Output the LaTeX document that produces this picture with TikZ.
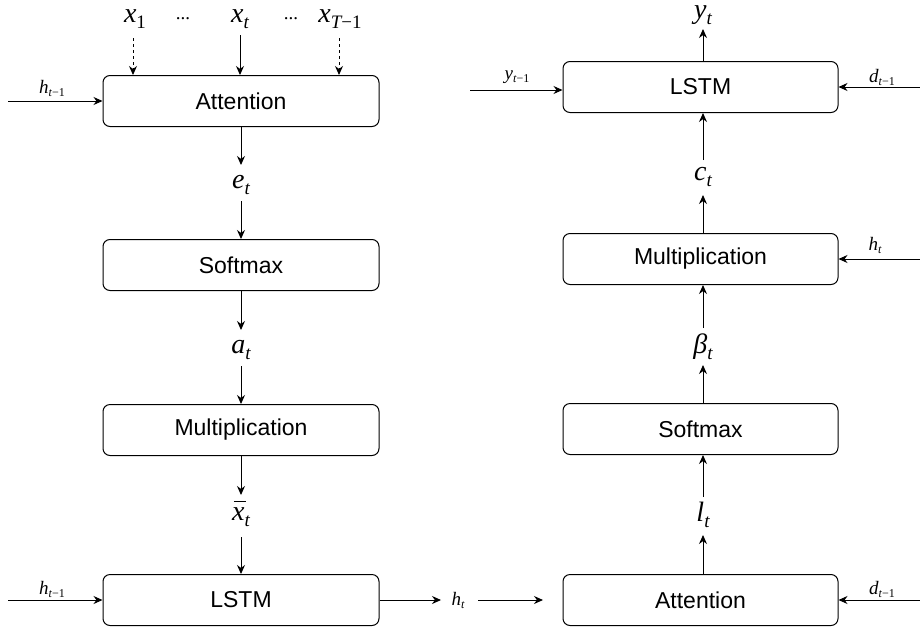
\documentclass[tikz,border=0pt]{standalone}
\usepackage{fontspec}
\setmainfont{Liberation Sans}
\newfontfamily\lsr{Liberation Serif}
\usetikzlibrary{arrows.meta}
\newcommand\biglab[2]{{\fontsize{28}{32}\selectfont\lsr\itshape #1\raisebox{-6pt}{\fontsize{19}{21}\selectfont #2}}}
\newcommand\smlab[2]{{\fontsize{19}{22}\selectfont\lsr\itshape #1\raisebox{-3pt}{\fontsize{12}{14}\selectfont #2}}}
\newcommand\xbar{\makebox[0pt][l]{\hspace{0.06em}\rule[0.66em]{0.42em}{1.3pt}}x}
\tikzset{
  box/.style={draw, rounded corners=7pt, line width=1pt, minimum width=276pt, minimum height=51pt,
    inner sep=0pt, font=\fontsize{23}{27}\selectfont},
  lab/.style={inner sep=1pt},
  arr/.style={line width=1pt, -{Stealth[length=9pt,width=8pt]}},
}
\begin{document}
\begin{tikzpicture}[x=1pt,y=-1pt]
\useasboundingbox (0,0) rectangle (920,632);
% ---------- left column ----------
\node[box] (latt) at (241,101) {Attention};
\node[box] (lsoft) at (241,265) {Softmax};
\node[box] (lmul) at (241,430) {Multiplication};
\node[box] (llstm) at (241,600) {LSTM};

\node[lab] (x1) at (135,19) {\biglab{x}{\upshape 1}};
\node[lab,font=\fontsize{19}{21}\selectfont\lsr] (d1) at (183,19) {...};
\node[lab] (xt) at (240,19) {\biglab{x}{t}};
\node[lab,font=\fontsize{19}{21}\selectfont\lsr] (d2) at (291,19) {...};
\node[lab] (xT) at (340,19) {\biglab{x}{T\upshape −1}};
\coordinate (x1s) at (133,38);
\coordinate (xts) at (240,35);
\coordinate (xTs) at (339,38);
\draw[arr,dashed] (x1s) -- (x1s |- latt.north);
\draw[arr] (xts) -- (xts |- latt.north);
\draw[arr,dashed] (xTs) -- (xTs |- latt.north);

\coordinate (lh1) at (8,101);
\draw[arr] (lh1) -- (latt.west);
\node[lab] (lh1l) at (52,88) {\smlab{h}{t\upshape −1}};

\node[lab] (et) at (241,185) {\biglab{e}{t}};
\draw[arr] (latt.south) -- (241,165);
\draw[arr] (241,201) -- (lsoft.north);
\node[lab] (at) at (241,350) {\biglab{a}{t}};
\draw[arr] (lsoft.south) -- (241,330);
\draw[arr] (241,366) -- (lmul.north);
\node[lab] (xb) at (241,514) {\biglab{\xbar}{t}};
\draw[arr] (lmul.south) -- (241,495);
\draw[arr] (241,537) -- (llstm.north);

\coordinate (lh2) at (8,600);
\draw[arr] (lh2) -- (llstm.west);
\node[lab] (lh2l) at (52,589) {\smlab{h}{t\upshape −1}};

\node[lab] (ht) at (458,600) {\smlab{h}{t}};
\draw[arr] (llstm.east) -- (441,600);
\coordinate (htr) at (543,600);
\draw[arr] (478,600) -- (htr);

% ---------- right column ----------
\node[box,minimum width=275pt] (rlstm) at (700.5,87) {LSTM};
\node[box,minimum width=275pt] (rmul) at (700.5,259) {Multiplication};
\node[box,minimum width=275pt] (rsoft) at (700.5,429) {Softmax};
\node[box,minimum width=275pt] (ratt) at (700.5,600) {Attention};

\node[lab] (lt) at (703,515) {\biglab{l}{t}};
\draw[arr] (703,574) -- (703,535);
\draw[arr] (703,497) -- (703,455);
\node[lab] (bt) at (703,347) {\biglab{β}{t}};
\draw[arr] (703,403) -- (703,365);
\draw[arr] (703,328) -- (703,285);
\node[lab] (ct) at (703,177) {\biglab{c}{t}};
\draw[arr] (703,233) -- (703,195);
\draw[arr] (703,160) -- (703,113);
\node[lab] (yt) at (703,15.5) {\biglab{y}{t}};
\draw[arr] (703,61) -- (703,29);

\coordinate (ry1) at (470,90);
\draw[arr] (ry1) -- (ry1 -| rlstm.west);
\node[lab] (ry1l) at (517,77) {\smlab{y}{t\upshape −1}};
\coordinate (rd1) at (920,87);
\draw[arr] (rd1) -- (rlstm.east);
\node[lab] (rd1l) at (882,77) {\smlab{d}{t\upshape −1}};
\coordinate (rh) at (920,259);
\draw[arr] (rh) -- (rmul.east);
\node[lab] (rhl) at (875,245) {\smlab{h}{t}};
\coordinate (rd2) at (920,600);
\draw[arr] (rd2) -- (ratt.east);
\node[lab] (rd2l) at (882,589) {\smlab{d}{t\upshape −1}};
\end{tikzpicture}
\end{document}
